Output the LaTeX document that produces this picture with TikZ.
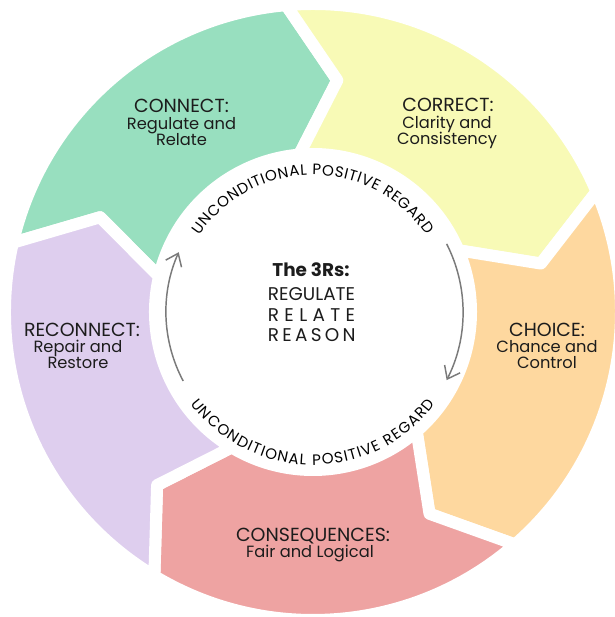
\documentclass[tikz,border=0pt]{standalone}
\usepackage{fontspec}
\usepackage{calc}
\setmainfont{Poppins}
\usetikzlibrary{decorations.text,arrows.meta}

\definecolor{segGreen}{HTML}{98DFBF}
\definecolor{segYellow}{HTML}{F8FAB6}
\definecolor{segOrange}{HTML}{FED89F}
\definecolor{segPink}{HTML}{EEA3A2}
\definecolor{segPurple}{HTML}{DECEEE}
\definecolor{ink}{HTML}{1C1C1C}
\definecolor{cyclegray}{HTML}{7A7A7A}

% ring radii (units = px)
\def\Ro{308}
\def\Rm{233}
\def\Ri{158}

% one arrow-shaped ring segment: #1 = angle of its tail boundary, #2 = colour
\newcommand\ringsegment[2]{%
  \fill[#2, draw=white, line width=9pt, line join=round]
    (#1:\Ro) -- (#1-11:\Rm) -- (#1:\Ri)
    arc[start angle=#1, end angle=#1-72, radius=\Ri]
    -- (#1-83:\Rm) -- (#1-72:\Ro)
    arc[start angle=#1-72, end angle=#1, radius=\Ro] -- cycle;}

\newcommand\headfont{\fontsize{14.2}{16}\selectfont}
\newcommand\subfont{\fontsize{12.2}{14}\selectfont}
\newcommand\hubfont{\fontsize{13.8}{16}\selectfont}
\newcommand\curvefont{\fontsize{11.3}{13}\selectfont}

\tikzset{
  heading/.style={anchor=base, inner sep=0pt, text=ink, font=\headfont},
  subline/.style={anchor=base, inner sep=0pt, text=ink, font=\subfont},
  hubline/.style={anchor=base, inner sep=0pt, text=ink, font=\hubfont},
  cyclearrow/.style={draw=cyclegray, line width=1.1pt,
    -{Straight Barb[length=8.5pt,width=13pt]}},
  curvedtext/.style={decorate, decoration={text along path,
    text={|\curvefont|#1}, text align={fit to path}}}
}

\begin{document}
\begin{tikzpicture}[x=0.75pt, y=0.75pt]
  \useasboundingbox (-313,-305) rectangle (301,312);
  \fill[white] (-313,-305) rectangle (301,312);

  % the five segments of the cycle
  \ringsegment{167}{segGreen}
  \ringsegment{95}{segYellow}
  \ringsegment{23}{segOrange}
  \ringsegment{-49}{segPink}
  \ringsegment{-121}{segPurple}

  % segment labels
  \node[heading] (connectH) at (-131.5,199) {CONNECT:};
  \node[subline] (connectA) at (-131.5,182.5) {Regulate and};
  \node[subline] (connectB) at (-131.5,166) {Relate};

  \node[heading] (correctH) at (135,200) {CORRECT:};
  \node[subline] (correctA) at (134,183.5) {Clarity and};
  \node[subline] (correctB) at (134,167) {Consistency};

  \node[heading] (choiceH) at (234,-25) {CHOICE:};
  \node[subline] (choiceA) at (234,-40.5) {Chance and};
  \node[subline] (choiceB) at (234,-56) {Control};

  \node[heading] (consH) at (0,-229.7) {CONSEQUENCES:};
  \node[subline] (consA) at (-3,-245) {Fair and Logical};

  \node[heading] (reconH) at (-231,-25) {RECONNECT:};
  \node[subline] (reconA) at (-235,-40.5) {Repair and};
  \node[subline] (reconB) at (-235,-56) {Restore};

  % centre text
  \node[hubline, font=\hubfont\bfseries] (hubTitle) at (-2,35.3) {The 3Rs:};
  \node[hubline] (hubRegulate) at (-1.5,12) {REGULATE};
  \node[hubline] (hubRelate) at (-1.5,-9.7)
    {\makebox[\widthof{REGULATE}][s]{R E L A T E}};
  \node[hubline] (hubReason) at (-1.5,-29.7)
    {\makebox[\widthof{REGULATE}][s]{R E A S O N}};

  % curved captions
  \path[curvedtext={UNCONDITIONAL POSITIVE REGARD}]
    (146:137) arc[start angle=146, end angle=34, radius=137];
  \path[curvedtext={UNCONDITIONAL POSITIVE REGARD}]
    (217:153) arc[start angle=217, end angle=323, radius=153];

  % circular arrows
  \coordinate (rightStart) at (27:150);
  \coordinate (leftStart) at (208:147);
  \draw[cyclearrow] (rightStart) arc[start angle=27, end angle=-27, radius=150];
  \draw[cyclearrow] (leftStart) arc[start angle=208, end angle=156, radius=147];
\end{tikzpicture}
\end{document}
